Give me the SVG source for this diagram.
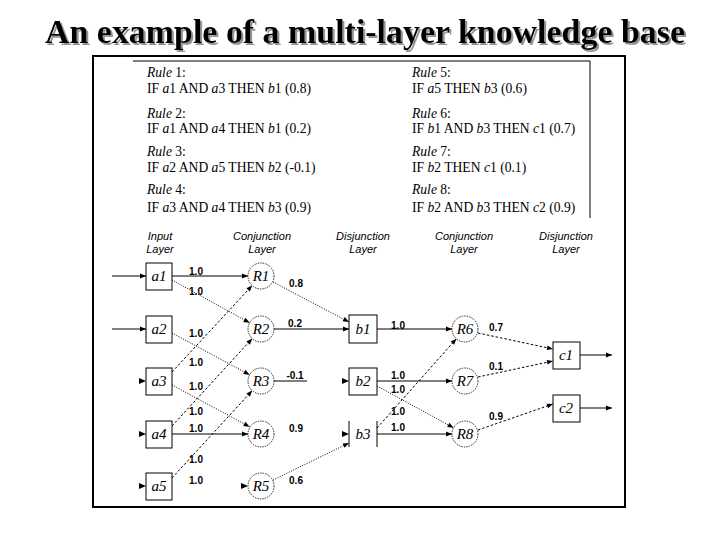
<svg xmlns="http://www.w3.org/2000/svg" width="720" height="540" viewBox="0 0 720 540">
<defs>
<marker id="ah" viewBox="0 0 10 10" refX="10" refY="5" markerWidth="7" markerHeight="6" orient="auto" markerUnits="userSpaceOnUse"><path d="M0,1 L10,5 L0,9 z" fill="#000"/></marker>
<filter id="sh" x="-5%" y="-30%" width="110%" height="160%"><feDropShadow dx="2" dy="2" stdDeviation="0.6" flood-color="#888" flood-opacity="0.9"/></filter>
</defs>
<style>
.title{font-family:"Liberation Serif","Times New Roman",serif;font-weight:bold;font-size:34px;fill:#000}
.rule{font-family:"Liberation Serif","Times New Roman",serif;font-size:13.6px;fill:#000}
.it{font-style:italic}
.hd{font-family:"Liberation Sans",Arial,sans-serif;font-style:italic;font-size:11px;text-anchor:middle;fill:#000}
.nd{font-family:"Liberation Serif","Times New Roman",serif;font-style:italic;font-size:15px;text-anchor:middle;fill:#000}
.w{font-family:"Liberation Sans",Arial,sans-serif;font-weight:bold;font-size:10px;text-anchor:middle;fill:#000}
.box{fill:#fff;stroke:#000;stroke-width:1}
.circ{fill:#fff;stroke:#000;stroke-width:0.8;stroke-dasharray:1.5,1}
.solid{stroke:#000;stroke-width:1;fill:none}
.dot{stroke:#000;stroke-width:1;fill:none;stroke-dasharray:1,1.5}
.dash{stroke:#000;stroke-width:1;fill:none;stroke-dasharray:2.5,2}
.tip{fill:#000}
</style>
<rect width="720" height="540" fill="#fff"/>
<text class="title" x="45" y="43" textLength="640" lengthAdjust="spacingAndGlyphs" filter="url(#sh)">An example of a multi-layer knowledge base</text>
<rect x="93" y="56" width="532" height="451" fill="none" stroke="#000" stroke-width="2"/>
<path d="M133,61 H590 V218" fill="none" stroke="#000" stroke-width="1"/>
<g id="rules">
<text class="rule" x="147" y="77"><tspan class="it">Rule</tspan> 1:</text>
<text class="rule" x="147" y="93">IF <tspan class="it">a</tspan>1 AND <tspan class="it">a</tspan>3 THEN <tspan class="it">b</tspan>1 (0.8)</text>
<text class="rule" x="147" y="118"><tspan class="it">Rule</tspan> 2:</text>
<text class="rule" x="147" y="133">IF <tspan class="it">a</tspan>1 AND <tspan class="it">a</tspan>4 THEN <tspan class="it">b</tspan>1 (0.2)</text>
<text class="rule" x="147" y="156"><tspan class="it">Rule</tspan> 3:</text>
<text class="rule" x="147" y="172">IF <tspan class="it">a</tspan>2 AND <tspan class="it">a</tspan>5 THEN <tspan class="it">b</tspan>2 (-0.1)</text>
<text class="rule" x="147" y="194"><tspan class="it">Rule</tspan> 4:</text>
<text class="rule" x="147" y="212">IF <tspan class="it">a</tspan>3 AND <tspan class="it">a</tspan>4 THEN <tspan class="it">b</tspan>3 (0.9)</text>
<text class="rule" x="412" y="77"><tspan class="it">Rule</tspan> 5:</text>
<text class="rule" x="412" y="93">IF <tspan class="it">a</tspan>5 THEN <tspan class="it">b</tspan>3 (0.6)</text>
<text class="rule" x="412" y="118"><tspan class="it">Rule</tspan> 6:</text>
<text class="rule" x="412" y="133">IF <tspan class="it">b</tspan>1 AND <tspan class="it">b</tspan>3 THEN <tspan class="it">c</tspan>1 (0.7)</text>
<text class="rule" x="412" y="156"><tspan class="it">Rule</tspan> 7:</text>
<text class="rule" x="412" y="172">IF <tspan class="it">b</tspan>2 THEN <tspan class="it">c</tspan>1 (0.1)</text>
<text class="rule" x="412" y="194"><tspan class="it">Rule</tspan> 8:</text>
<text class="rule" x="412" y="212">IF <tspan class="it">b</tspan>2 AND <tspan class="it">b</tspan>3 THEN <tspan class="it">c</tspan>2 (0.9)</text>
</g>
<g id="headings">
<text class="hd" x="160" y="240">Input</text><text class="hd" x="160" y="253">Layer</text>
<text class="hd" x="262" y="240">Conjunction</text><text class="hd" x="262" y="253">Layer</text>
<text class="hd" x="363" y="240">Disjunction</text><text class="hd" x="363" y="253">Layer</text>
<text class="hd" x="464" y="240">Conjunction</text><text class="hd" x="464" y="253">Layer</text>
<text class="hd" x="566" y="240">Disjunction</text><text class="hd" x="566" y="253">Layer</text>
</g>
<g id="connectors">
<path class="solid" d="M112,276 H146" marker-end="url(#ah)"/>
<path class="solid" d="M112,329 H146" marker-end="url(#ah)"/>
<polygon class="tip" points="139,378 146,381 139,384"/>
<polygon class="tip" points="139,431 146,434 139,437"/>
<polygon class="tip" points="139,483 146,486 139,489"/>
<path class="solid" d="M172,276 H248" marker-end="url(#ah)"/>
<path class="dot" d="M172,280 L249.6,322.8" marker-end="url(#ah)"/>
<path class="dot" d="M172,333 L249.6,374.8" marker-end="url(#ah)"/>
<path class="dash" d="M172,372 L252.2,285.5" marker-end="url(#ah)"/>
<path class="dot" d="M172,385 L249.6,426.8" marker-end="url(#ah)"/>
<path class="dash" d="M172,426 L252.2,338.6" marker-end="url(#ah)"/>
<path class="solid" d="M172,434 H248" marker-end="url(#ah)"/>
<path class="dash" d="M172,478 L252.2,390.6" marker-end="url(#ah)"/>
<polygon class="tip" points="241,483 248,486 241,489"/>
<path class="dot" d="M273,282 L349,322" marker-end="url(#ah)"/>
<path class="solid" d="M274,329 H349" marker-end="url(#ah)"/>
<path class="solid" d="M274,381 H307"/>
<path class="dot" d="M273,480 L349,443" marker-end="url(#ah)"/>
<polygon class="tip" points="342,378 349,381 342,384"/>
<polygon class="tip" points="342,431 349,434 342,437"/>
<path class="solid" d="M377,329 H452" marker-end="url(#ah)"/>
<path class="solid" d="M377,381 H452" marker-end="url(#ah)"/>
<path class="dot" d="M377,386 L453.6,427.8" marker-end="url(#ah)"/>
<path class="dash" d="M377,428 L456.4,338.7" marker-end="url(#ah)"/>
<path class="solid" d="M377,434 H452" marker-end="url(#ah)"/>
<path class="dash" d="M478,333 L553,349" marker-end="url(#ah)"/>
<path class="dash" d="M478,377 L553,361" marker-end="url(#ah)"/>
<path class="dash" d="M478,430 L553,404" marker-end="url(#ah)"/>
<path class="solid" d="M580,355 H612" marker-end="url(#ah)"/>
<path class="solid" d="M580,408 H612" marker-end="url(#ah)"/>
</g>
<g id="weights">
<text class="w" x="196" y="275">1.0</text>
<text class="w" x="196" y="295">1.0</text>
<text class="w" x="196" y="337">1.0</text>
<text class="w" x="196" y="366">1.0</text>
<text class="w" x="196" y="390">1.0</text>
<text class="w" x="196" y="415">1.0</text>
<text class="w" x="196" y="432">1.0</text>
<text class="w" x="196" y="463">1.0</text>
<text class="w" x="196" y="484">1.0</text>
<text class="w" x="296" y="287">0.8</text>
<text class="w" x="295" y="327">0.2</text>
<text class="w" x="295" y="379">-0.1</text>
<text class="w" x="296" y="432">0.9</text>
<text class="w" x="296" y="484">0.6</text>
<text class="w" x="398" y="329">1.0</text>
<text class="w" x="398" y="379">1.0</text>
<text class="w" x="398" y="393">1.0</text>
<text class="w" x="398" y="415">1.0</text>
<text class="w" x="398" y="431">1.0</text>
<text class="w" x="496" y="331">0.7</text>
<text class="w" x="496" y="370">0.1</text>
<text class="w" x="496" y="420">0.9</text>
</g>
<g id="a1"><rect class="box" x="146" y="263" width="26" height="27"/><text class="nd" x="159" y="281">a1</text></g>
<g id="a2"><rect class="box" x="146" y="316" width="26" height="27"/><text class="nd" x="159" y="334">a2</text></g>
<g id="a3"><rect class="box" x="146" y="368" width="26" height="27"/><text class="nd" x="159" y="386">a3</text></g>
<g id="a4"><rect class="box" x="146" y="421" width="26" height="27"/><text class="nd" x="159" y="439">a4</text></g>
<g id="a5"><rect class="box" x="146" y="473" width="26" height="27"/><text class="nd" x="159" y="491">a5</text></g>
<g id="R1"><circle class="circ" cx="261" cy="276" r="13"/><text class="nd" x="261" y="281">R1</text></g>
<g id="R2"><circle class="circ" cx="261" cy="329" r="13"/><text class="nd" x="261" y="334">R2</text></g>
<g id="R3"><circle class="circ" cx="261" cy="381" r="13"/><text class="nd" x="261" y="386">R3</text></g>
<g id="R4"><circle class="circ" cx="261" cy="434" r="13"/><text class="nd" x="261" y="439">R4</text></g>
<g id="R5"><circle class="circ" cx="261" cy="486" r="13"/><text class="nd" x="261" y="491">R5</text></g>
<g id="b1"><rect class="box" x="349" y="315" width="28" height="28"/><text class="nd" x="363" y="334">b1</text></g>
<g id="b2"><rect class="box" x="349" y="368" width="28" height="27"/><text class="nd" x="363" y="386">b2</text></g>
<g id="b3"><path class="solid" d="M349,421 V447 M377,421 V447"/><text class="nd" x="363" y="439">b3</text></g>
<g id="R6"><circle class="circ" cx="465" cy="329" r="13"/><text class="nd" x="465" y="334">R6</text></g>
<g id="R7"><circle class="circ" cx="465" cy="381" r="13"/><text class="nd" x="465" y="386">R7</text></g>
<g id="R8"><circle class="circ" cx="465" cy="434" r="13"/><text class="nd" x="465" y="439">R8</text></g>
<g id="c1"><rect class="box" x="553" y="342" width="27" height="27"/><text class="nd" x="566" y="360">c1</text></g>
<g id="c2"><rect class="box" x="553" y="395" width="27" height="27"/><text class="nd" x="566" y="413">c2</text></g>
</svg>
